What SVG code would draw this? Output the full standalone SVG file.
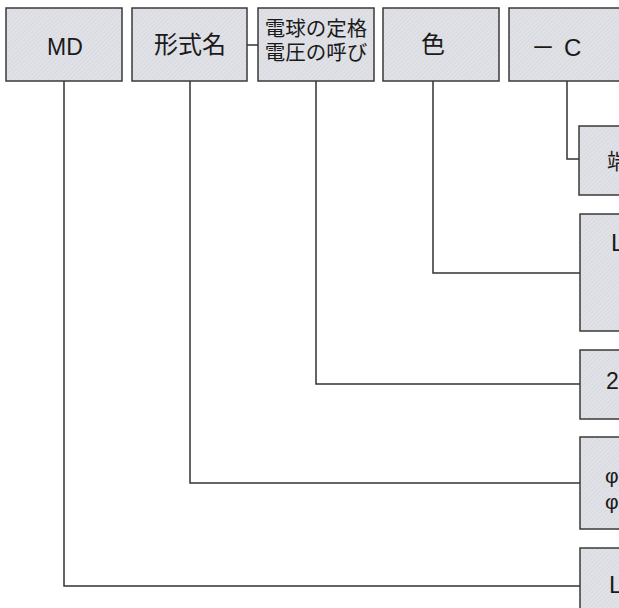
<svg xmlns="http://www.w3.org/2000/svg" width="619" height="608" viewBox="0 0 619 608">
<defs>
<pattern id="tex" width="3" height="3" patternUnits="userSpaceOnUse" patternTransform="rotate(45)">
<rect width="3" height="3" fill="#e1e2e7"/>
<line x1="0" y1="0" x2="0" y2="3" stroke="#d0d1d7" stroke-width="1"/>
</pattern>
</defs>
<style>
.box{fill:url(#tex);stroke:#3a3a3a;stroke-width:1.5}
.t{font-family:"Noto Sans CJK JP","Noto Sans",sans-serif;fill:#1a1a1a}
.l{font-family:"Liberation Sans",Arial,sans-serif;fill:#1a1a1a}
.c{fill:none;stroke:#333;stroke-width:1.5}
</style>
<rect width="619" height="608" fill="#ffffff"/>
<g id="connectors">
<path class="c" d="M247,45 H258"/>
<path class="c" d="M567,81 V159 H579"/>
<path class="c" d="M433,81 V273 H580"/>
<path class="c" d="M316,81 V384 H580"/>
<path class="c" d="M190,81 V483 H580"/>
<path class="c" d="M64,81 V586 H580"/>
</g>
<g id="n-md">
<rect class="box" x="6" y="8" width="116" height="73"/>
<text class="l" x="65" y="55" font-size="23" text-anchor="middle">MD</text>
</g>
<g id="n-keishiki">
<rect class="box" x="132" y="8" width="115" height="73"/>
<text class="t" x="190" y="53" font-size="24" text-anchor="middle">形式名</text>
</g>
<g id="n-denkyu">
<rect class="box" x="258" y="8" width="116" height="73"/>
<text class="t" x="316" y="36" font-size="20.5" text-anchor="middle">電球の定格</text>
<text class="t" x="316" y="60" font-size="20.5" text-anchor="middle">電圧の呼び</text>
</g>
<g id="n-iro">
<rect class="box" x="383" y="8" width="116" height="73"/>
<text class="t" x="433" y="53" font-size="24" text-anchor="middle">色</text>
</g>
<g id="n-c">
<rect class="box" x="509" y="8" width="130" height="73"/>
<text class="t" x="531" y="56" font-size="24">－<tspan class="l" x="564">C</tspan></text>
</g>
<g id="n-r1">
<rect class="box" x="579" y="126" width="80" height="69"/>
<text class="t" x="607" y="169" font-size="22">端</text>
</g>
<g id="n-r2">
<rect class="box" x="580" y="214" width="80" height="117"/>
<text class="l" x="611" y="251" font-size="24">L</text>
</g>
<g id="n-r3">
<rect class="box" x="580" y="350" width="80" height="69"/>
<text class="l" x="606" y="389" font-size="23">2</text>
</g>
<g id="n-r4">
<rect class="box" x="580" y="437" width="80" height="92"/>
<text class="l" x="605" y="483" font-size="21">φ</text>
<text class="l" x="605" y="509" font-size="21">φ</text>
</g>
<g id="n-r5">
<rect class="box" x="580" y="548" width="80" height="80"/>
<text class="l" x="609" y="593" font-size="24">L</text>
</g>
</svg>
